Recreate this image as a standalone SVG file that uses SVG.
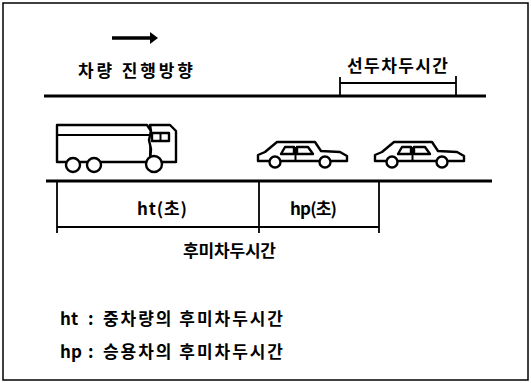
<svg xmlns="http://www.w3.org/2000/svg" width="531" height="383" viewBox="0 0 531 383">
  <style>
    .ln { stroke: #000; fill: none; stroke-linejoin: round; stroke-linecap: butt; }
    .road { stroke: #000; stroke-width: 3; }
    .dim { stroke: #000; stroke-width: 1.8; }
    .veh { stroke: #000; stroke-width: 2.4; fill: #fff; stroke-linejoin: round; }
    .txt { font-family: "Noto Sans CJK KR", "Noto Sans", sans-serif; font-weight: bold; font-size: 17px; fill: #000; }
  </style>
  <defs>
    <g id="car">
      <path class="veh" d="M0,19 L0,13 L7,10 L19,0 L57,0 L63,9 L82,10 L89,14 L89,19 Z"/>
      <path class="veh" d="M23,12 L27,5 L36,5 L36,12 Z M39,5 L50,5 L55,12 L39,12 Z"/>
      <line class="ln" stroke-width="2" x1="37.5" y1="5" x2="37.5" y2="20"/>
      <circle class="veh" cx="17" cy="20" r="5.5"/>
      <circle class="veh" cx="67" cy="20" r="5.5"/>
    </g>
  </defs>
  <rect x="0" y="0" width="531" height="383" fill="#fff"/>
  <rect x="3" y="3" width="525" height="377" fill="none" stroke="#000" stroke-width="1.5"/>

  <!-- direction of travel -->
  <g id="direction">
    <line x1="112" y1="38" x2="151" y2="38" stroke="#000" stroke-width="3.5"/>
    <polygon points="150,32 158,38 150,44" fill="#000"/>
    <text class="txt" x="78" y="77" textLength="115" lengthAdjust="spacing">차량 진행방향</text>
  </g>

  <!-- roads -->
  <g id="roads">
    <line class="road" x1="44" y1="96" x2="486" y2="96"/>
    <line class="road" x1="46" y1="181" x2="492" y2="181"/>
  </g>

  <!-- truck -->
  <g id="truck">
    <path class="veh" d="M57,125 L147,125 L151,131 L150,162 L57,162 Z"/>
    <line class="ln" stroke-width="2.2" x1="57" y1="135" x2="150" y2="135"/>
    <path class="veh" d="M150,125 L170,125 L176,131 L176,162 L150,162 L151,149 L149,140 L151,131 Z"/>
    <rect class="veh" x="152" y="133" width="17" height="8" stroke-width="2"/>
    <line class="ln" stroke-width="2" x1="160.5" y1="133" x2="160.5" y2="141"/>
    <circle class="veh" cx="73" cy="165" r="7"/>
    <circle class="veh" cx="94" cy="165" r="7"/>
    <circle class="veh" cx="154" cy="164" r="8"/>
  </g>

  <!-- passenger cars -->
  <g id="car1"><use href="#car" x="258" y="142"/></g>
  <g id="car2"><use href="#car" x="375" y="142"/></g>

  <!-- headway dimensions -->
  <g id="connectors">
    <line class="dim" x1="340" y1="77" x2="340" y2="96"/>
    <line class="dim" x1="456" y1="76" x2="456" y2="96"/>
    <line class="dim" x1="340" y1="83" x2="456" y2="83"/>
    <line class="dim" x1="57" y1="181" x2="57" y2="233"/>
    <line class="dim" x1="259" y1="181" x2="259" y2="233"/>
    <line class="dim" x1="379" y1="181" x2="379" y2="233"/>
    <line class="dim" x1="57" y1="227" x2="379" y2="227"/>
  </g>

  <g id="labels">
    <text class="txt" x="347" y="72" textLength="101" lengthAdjust="spacing">선두차두시간</text>
    <text class="txt" x="137" y="215" textLength="50" lengthAdjust="spacing">ht(초)</text>
    <text class="txt" x="290" y="215" textLength="47" lengthAdjust="spacing">hp(초)</text>
    <text class="txt" x="183" y="257" textLength="93" lengthAdjust="spacing">후미차두시간</text>
  </g>

  <g id="legend">
    <text class="txt" x="60" y="325">ht</text>
    <text class="txt" x="88" y="325">:</text>
    <text class="txt" x="103" y="325" textLength="180" lengthAdjust="spacing">중차량의 후미차두시간</text>
    <text class="txt" x="60" y="358">hp</text>
    <text class="txt" x="88" y="358">:</text>
    <text class="txt" x="103" y="358" textLength="180" lengthAdjust="spacing">승용차의 후미차두시간</text>
  </g>
</svg>
